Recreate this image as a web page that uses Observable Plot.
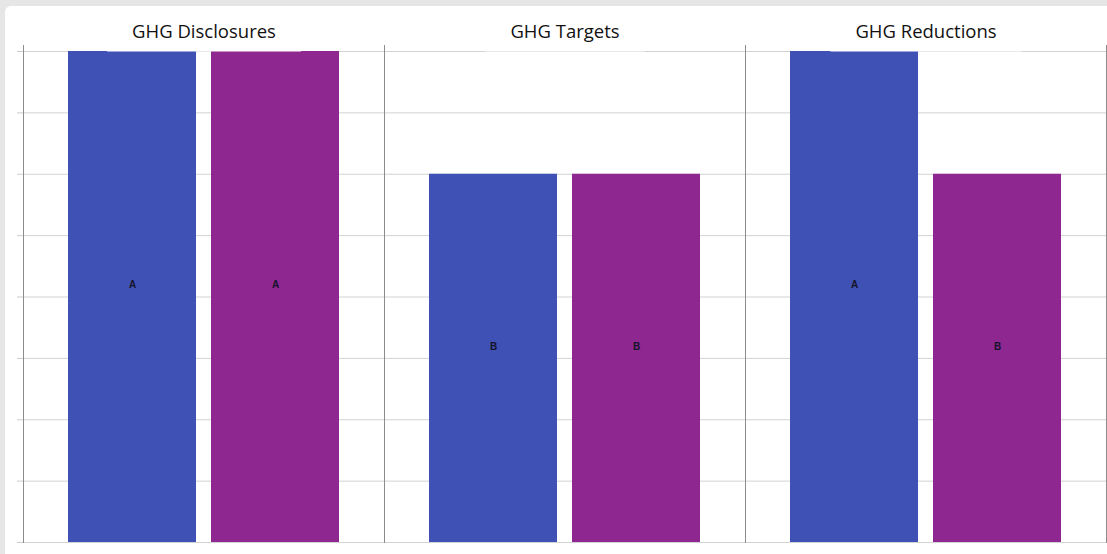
<!DOCTYPE html>
<html>
<head>
<meta charset="utf-8">
<script src="https://cdn.jsdelivr.net/npm/d3@7"></script>
<script src="https://cdn.jsdelivr.net/npm/@observablehq/plot@0.6"></script>
<style>
  html, body { margin: 0; padding: 0; background: #e6e6e6; width: 1107px; height: 554px; overflow: hidden; }
  #panel { position: absolute; left: 5px; top: 6px; width: 1120px; height: 570px; background: #fff; border-radius: 6px; }
  #chart { position: absolute; left: 0; top: 0; }
</style>
</head>
<body>
<div id="panel"></div>
<div id="chart"></div>
<script>
// Categories (facets) and the two compared series
const categories = ["GHG Disclosures", "GHG Targets", "GHG Reductions"];
const seriesNames = ["first", "second"];
const seriesColors = ["#3f51b5", "#8e278f"];

// Letter grades per category for each series
const firstGrades = ["A", "B", "A"];
const secondGrades = ["A", "B", "B"];

// Grade → score lookup (D lowest … A highest)
const gradeOrder = ["D", "C", "B", "A"];
const gradeScore = g => gradeOrder.indexOf(g) + 1;

// Gridline positions on the score axis
const gridTicks = [0, 0.5, 1, 1.5, 2, 2.5, 3, 3.5, 4];

const rows = [];
categories.forEach((category, i) => {
  [firstGrades, secondGrades].forEach((grades, j) => {
    rows.push({ category, series: seriesNames[j], grade: grades[i], score: gradeScore(grades[i]) });
  });
});

const marginTop = 51;

const chart = Plot.plot({
  width: 1107,
  height: 554,
  marginLeft: 23,
  marginRight: 1,
  marginTop,
  marginBottom: 12,
  style: { background: "transparent", fontFamily: "'Open Sans', sans-serif", overflow: "visible" },
  fx: { domain: categories, paddingInner: 0, paddingOuter: 0, label: null },
  x: { domain: seriesNames, paddingInner: 0.104, paddingOuter: 0.3055, axis: null },
  y: { domain: [0, 4], label: null },
  color: { domain: seriesNames, range: seriesColors },
  marks: [
    Plot.gridY(gridTicks, { stroke: "#d2d2d2", strokeOpacity: 1 }),
    Plot.axisY(gridTicks, { tickSize: 6, tickFormat: () => "", stroke: "#cccccc", label: null }),
    Plot.barY(rows, { fx: "category", x: "series", y: "score", fill: "series" }),
    Plot.text(rows, {
      fx: "category", x: "series", y: d => d.score / 2, text: "grade",
      dy: -12, fontSize: 10, fontWeight: "bold", fontFamily: "'Liberation Sans', Arial, sans-serif",
      fill: "#14142a"
    }),
    Plot.frame({ anchor: "left", stroke: "#8c8c8c", strokeOpacity: 1, insetTop: -6 }),
    Plot.frame({ anchor: "right", stroke: "#8c8c8c", strokeOpacity: 1, insetTop: -6 }),
    Plot.axisFx({ anchor: "top", tickSize: 0, tickPadding: 14, fontSize: 18.5, fill: "#111", label: null })
  ]
});

document.getElementById("chart").appendChild(chart);

// White header boxes behind each facet title, spanning down to the top gridline
const svgBox = chart.getBoundingClientRect();
d3.select(chart).selectAll('g[aria-label="fx-axis tick label"]').each(function () {
  const axisGroup = this;
  d3.select(axisGroup).selectAll("text").each(function () {
    const b = this.getBoundingClientRect();
    d3.select(chart).insert("rect", () => axisGroup)
      .attr("x", b.left - svgBox.left - 25)
      .attr("y", 16)
      .attr("width", b.width + 50)
      .attr("height", marginTop + 0.5 - 16)
      .attr("fill", "#fff");
  });
});
</script>
</body>
</html>
